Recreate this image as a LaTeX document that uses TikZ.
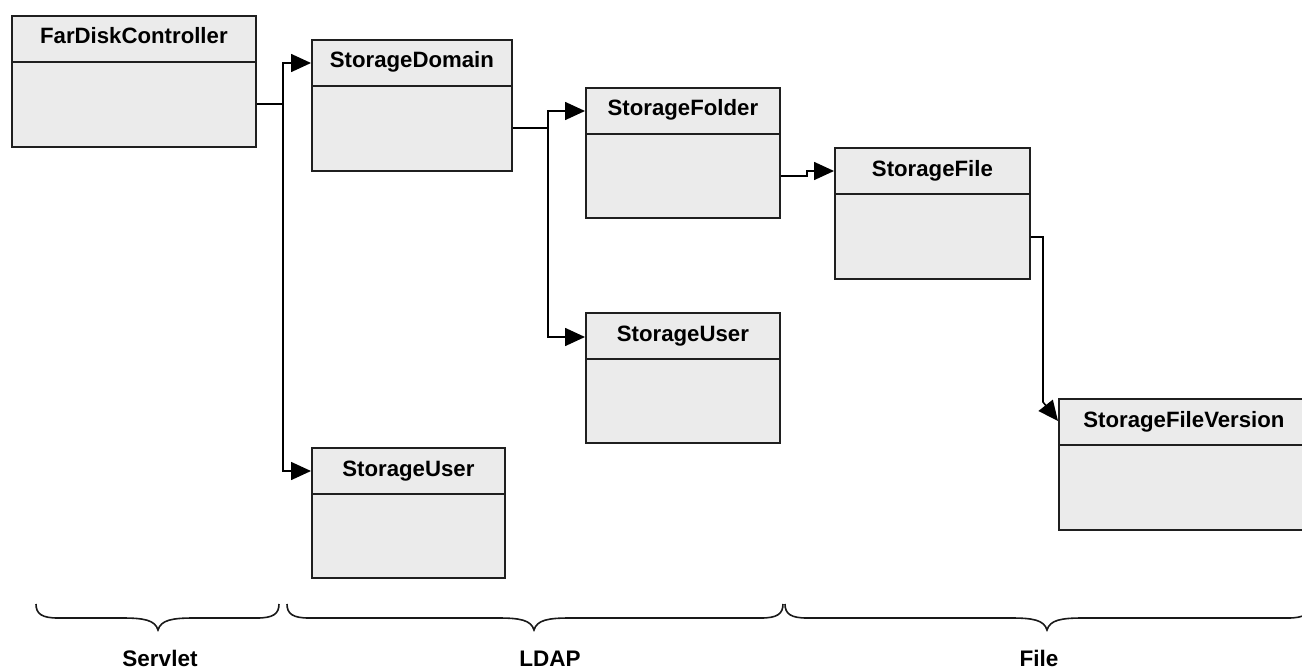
\documentclass[tikz,border=0pt]{standalone}
\usepackage{fontspec}
\setmainfont{Liberation Sans}
\usetikzlibrary{arrows.meta}
\tikzset{
  classbox/.style={draw=black!88, line width=1.8pt, fill=black!8, rectangle, inner sep=0pt, anchor=north west},
  divline/.style={draw=black!88, line width=1.8pt},
  titletext/.style={font=\fontsize{22.2}{24}\selectfont\bfseries, anchor=base, inner sep=0pt},
  grouptext/.style={font=\fontsize{22.5}{24}\selectfont\bfseries, anchor=base, inner sep=0pt},
  conn/.style={draw=black, line width=1.6pt},
  arrowconn/.style={conn, -{Triangle[length=20pt,width=18pt]}},
  bracestyle/.style={draw=black!90, line width=1.6pt}
}
% #1 name, #2 x, #3 y, #4 width, #5 height, #6 title
\newcommand{\umlbox}[6]{%
  \node[classbox, minimum width=#4pt, minimum height=#5pt] (#1) at (#2,#3) {};
  \draw[divline] ([yshift=-47pt]#1.north west) -- ([yshift=-47pt]#1.north east);
  \node[titletext] (#1-title) at ([yshift=-29pt]#1.north) {#6};
}
% #1 left x, #2 tip x, #3 right x
\newcommand{\groupbrace}[3]{%
  \draw[bracestyle] (#1,604) .. controls (#1,614) and (#1+6,618) .. (#1+22,618)
    -- (#2-36,618) .. controls (#2-14,618) and (#2-3,620) .. (#2,630)
    .. controls (#2+3,620) and (#2+14,618) .. (#2+36,618)
    -- (#3-22,618) .. controls (#3-6,618) and (#3,614) .. (#3,604);
}
\begin{document}
\begin{tikzpicture}[x=1pt,y=-1pt]
\useasboundingbox (0,0) rectangle (1302,669);

\umlbox{fdc}{11}{15}{244}{131}{FarDiskController}
\umlbox{sd}{311}{39}{200}{131}{StorageDomain}
\umlbox{sfo}{585}{87}{194}{130}{StorageFolder}
\umlbox{suone}{585}{312}{194}{130}{StorageUser}
\umlbox{sfi}{834}{147}{195}{131}{StorageFile}
\umlbox{sutwo}{311}{447}{193}{130}{StorageUser}
\umlbox{sfv}{1058}{398}{250}{131}{StorageFileVersion}

% connectors
\coordinate (j1) at (283,104);
\coordinate (j2) at (548,128);
\draw[conn] (fdc.east |- j1) -- (j1);
\draw[arrowconn] (j1) |- (sd.west |- 0,63);
\draw[arrowconn] (j1) |- (sutwo.west |- 0,471);
\draw[conn] (sd.east |- j2) -- (j2);
\draw[arrowconn] (j2) |- (sfo.west |- 0,111);
\draw[arrowconn] (j2) |- (suone.west |- 0,337);
\draw[arrowconn] (sfo.east |- 0,176) -- (807,176) -- (807,171) -- (sfi.west |- 0,171);
\draw[arrowconn] (sfi.east |- 0,237) -- (1043,237) -- (1043,402) -- (sfv.west |- 0,421);

% group braces
\groupbrace{36}{158}{279}
\groupbrace{287}{534}{783}
\groupbrace{785}{1047}{1310}

\node[grouptext] (servlet) at (160,666) {Servlet};
\node[grouptext] (ldap) at (550,666) {LDAP};
\node[grouptext] (file) at (1039,666) {File};
\end{tikzpicture}
\end{document}
